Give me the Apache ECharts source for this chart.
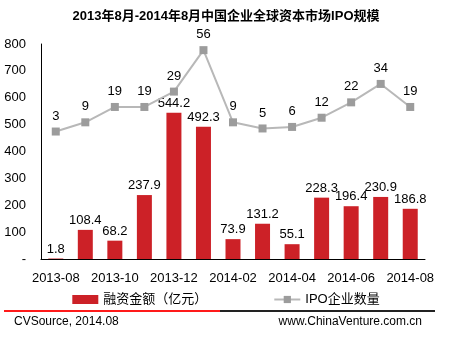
<!DOCTYPE html>
<html><head><meta charset="utf-8">
<script src="https://cdn.jsdelivr.net/npm/echarts@6/dist/echarts.min.js"></script>
<style>html,body{margin:0;padding:0;background:#fff}#c{width:452px;height:339px}</style>
</head><body><div id="c"></div>
<script>
const categories = ['2013-08','2013-09','2013-10','2013-11','2013-12','2014-01','2014-02','2014-03','2014-04','2014-05','2014-06','2014-07','2014-08'];
const amounts = [1.8,108.4,68.2,237.9,544.2,492.3,73.9,131.2,55.1,228.3,196.4,230.9,186.8];
const ipoCounts = [3,9,19,19,29,56,9,5,6,12,22,34,19];
const titleText = '2013年8月-2014年8月中国企业全球资本市场IPO规模';
const seriesNames = ['融资金额（亿元）','IPO企业数量'];
const sourceText = 'CVSource, 2014.08';
const siteText = 'www.ChinaVenture.com.cn';

const font = 'Liberation Sans, Arial, Noto Sans CJK SC, sans-serif';
const chart = echarts.init(document.getElementById('c'));
chart.setOption({
  animation: false,
  backgroundColor: '#fff',
  textStyle: {fontFamily: font},
  title: {
    text: titleText, left: 'center', top: 5,
    textStyle: {fontSize: 13, fontWeight: 'bold', color: '#000', fontFamily: font}
  },
  legend: {
    bottom: 28, left: 'center', itemGap: 66, itemWidth: 26, itemHeight: 9,
    textStyle: {fontSize: 13, color: '#000', fontFamily: font},
    data: [{name: seriesNames[0], icon: 'rect'}, {name: seriesNames[1]}]
  },
  grid: {left: 41, right: 27, top: 44, bottom: 80},
  xAxis: {
    type: 'category', data: categories,
    axisLine: {lineStyle: {color: '#000', width: 1}},
    axisTick: {show: false},
    axisLabel: {interval: 1, color: '#000', fontSize: 13, margin: 13}
  },
  yAxis: [{
    type: 'value', min: 0, max: 800, interval: 100,
    axisLine: {show: true, lineStyle: {color: '#000'}},
    axisTick: {show: false},
    splitLine: {show: false},
    axisLabel: {color: '#000', fontSize: 13, margin: 15, formatter: v => v === 0 ? '-' : v}
  }, {
    type: 'value', min: -80, max: 60, show: false, splitLine: {show: false}
  }],
  series: [{
    name: seriesNames[0], type: 'bar', data: amounts, barWidth: 15,
    itemStyle: {color: '#cc2127'},
    label: {show: true, position: 'top', distance: 3, color: '#000', fontSize: 13}
  }, {
    name: seriesNames[1], type: 'line', yAxisIndex: 1, data: ipoCounts,
    symbol: 'rect', symbolSize: 8,
    lineStyle: {color: '#b8b8b8', width: 2},
    itemStyle: {color: '#9c9c9c'},
    label: {show: true, position: 'top', distance: 5, color: '#000', fontSize: 13}
  }],
  graphic: [
    {type: 'rect', shape: {x: 4, y: 310, width: 216, height: 2}, style: {fill: '#ff1a1a'}},
    {type: 'rect', shape: {x: 220, y: 310, width: 215, height: 2}, style: {fill: '#222'}},
    {type: 'text', left: 14, top: 316, style: {text: sourceText, fontSize: 12, fill: '#000', fontFamily: font}},
    {type: 'text', right: 30, top: 316, style: {text: siteText, fontSize: 12, fill: '#000', fontFamily: font}}
  ]
});
</script></body></html>
